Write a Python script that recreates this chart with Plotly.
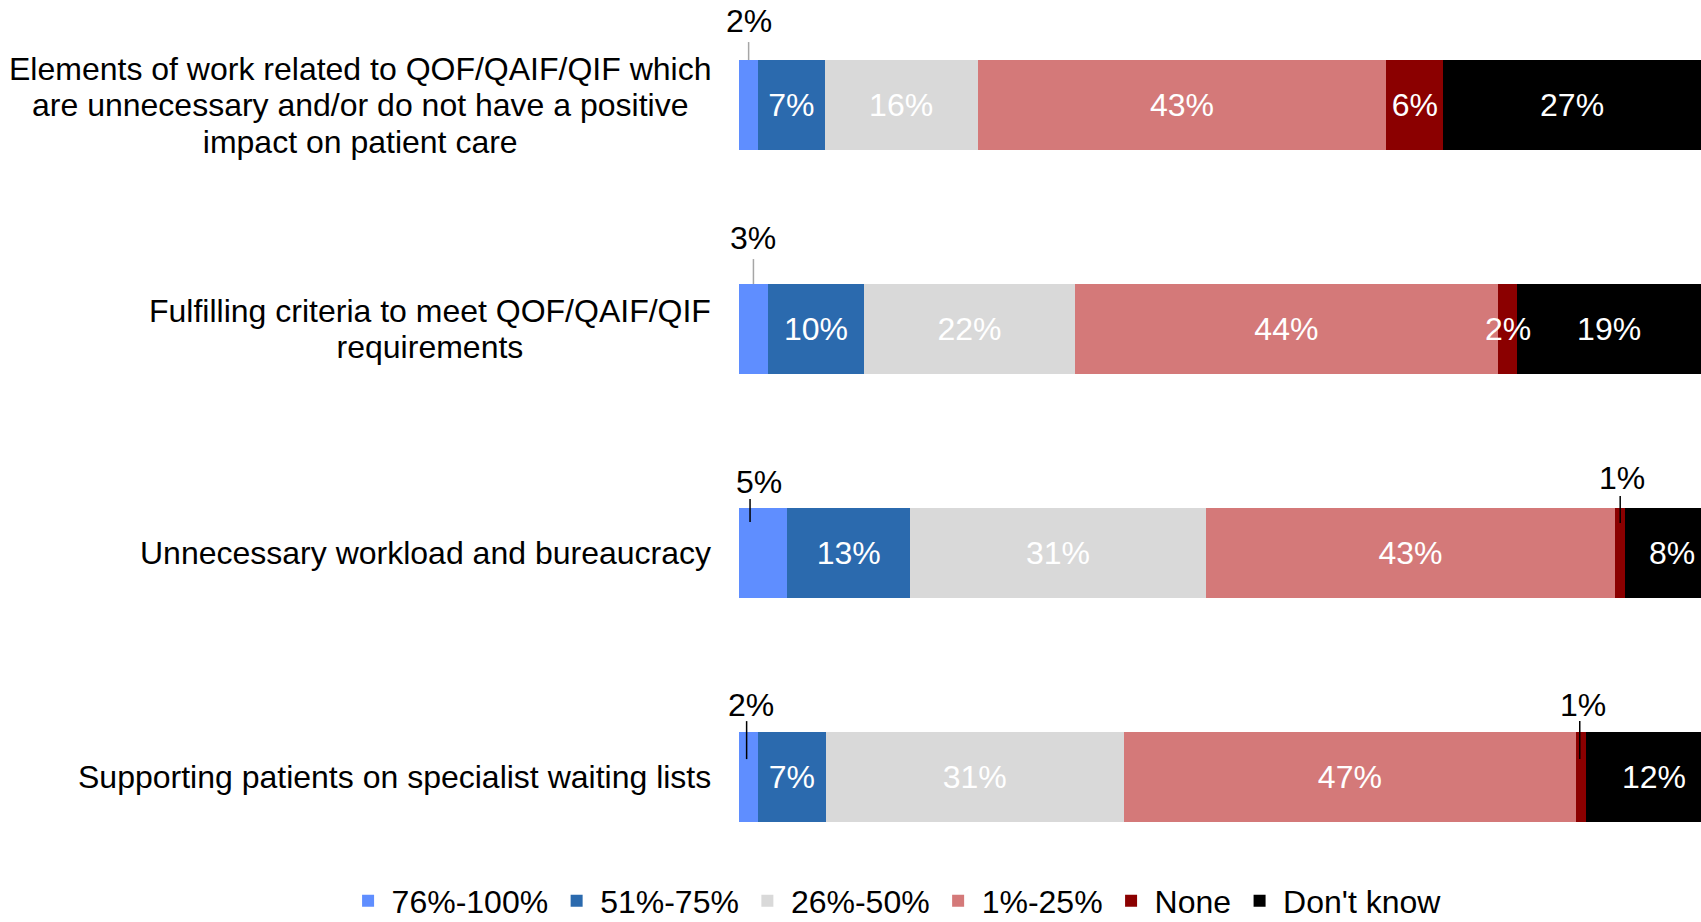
import plotly.graph_objects as go

# categories (top to bottom)
categories = [
    "Elements of work related to QOF/QAIF/QIF which<br>are unnecessary and/or do not have a positive<br>impact on patient care",
    "Fulfilling criteria to meet QOF/QAIF/QIF<br>requirements",
    "Unnecessary workload and bureaucracy",
    "Supporting patients on specialist waiting lists",
]

# share of respondents per answer (percent), one list per answer band
v_76_100 = [2.0, 3.0, 5.0, 2.0]
v_51_75 = [6.9, 10.0, 12.8, 7.0]
v_26_50 = [15.9, 21.9, 30.7, 31.0]
v_1_25 = [42.5, 44.0, 42.6, 47.0]
v_none = [5.9, 2.0, 1.0, 1.0]
v_dont_know = [26.8, 19.1, 7.9, 12.0]

# labels as printed on the chart
lab_76_100 = ["2%", "3%", "5%", "2%"]
lab_51_75 = ["7%", "10%", "13%", "7%"]
lab_26_50 = ["16%", "22%", "31%", "31%"]
lab_1_25 = ["43%", "44%", "43%", "47%"]
lab_none = ["6%", "2%", "1%", "1%"]
lab_dont_know = ["27%", "19%", "8%", "12%"]

series_names = ["76%-100%", "51%-75%", "26%-50%", "1%-25%", "None", "Don't know"]
series_values = [v_76_100, v_51_75, v_26_50, v_1_25, v_none, v_dont_know]
series_labels = [lab_76_100, lab_51_75, lab_26_50, lab_1_25, lab_none, lab_dont_know]
colors = ["#5F8EFF", "#2B6AAE", "#D9D9D9", "#D47979", "#8B0000", "#000000"]

# small segments labelled above the bar with a leader line (pixel offsets from the bar centre):
# (row, series, line colour, line x shift, line bottom, line top, text x shift, text y shift)
callouts = [
    (0, 0, "#A6A6A6", 0, 45, 63, 0, 84),
    (1, 0, "#A6A6A6", 0, 45, 70, 0, 91),
    (2, 0, "#000000", -13, 31, 54, -4, 71),
    (2, 4, "#000000", 0, 30, 57, 2, 75),
    (3, 0, "#000000", -2, 18, 56, 2, 72),
    (3, 4, "#000000", -1, 18, 56, 2, 72),
]
callout_set = {(c[0], c[1]) for c in callouts}

# in-bar labels drawn on top (spilling over a neighbour or nudged off-centre): (row, series, x shift)
overlay = [(1, 4, 0), (2, 5, 9), (3, 5, 11)]
overlay_set = {(o[0], o[1]) for o in overlay}

FONT = "Liberation Sans, Arial, sans-serif"
FS = 32

fig = go.Figure()
for s, (name, vals, labs, col) in enumerate(zip(series_names, series_values, series_labels, colors)):
    text = ["" if (r, s) in callout_set or (r, s) in overlay_set else labs[r]
            for r in range(len(categories))]
    fig.add_trace(go.Bar(
        y=categories,
        x=vals,
        name=name,
        orientation="h",
        marker=dict(color=col, line=dict(width=0)),
        text=text,
        textposition="inside",
        insidetextanchor="middle",
        constraintext="none",
        textangle=0,
        textfont=dict(color="white", size=FS, family=FONT),
        hoverinfo="skip",
    ))


def seg_mid(r, s):
    start = sum(series_values[k][r] for k in range(s))
    return start + series_values[s][r] / 2


# leader-line callouts
for r, s, lc, lx, lb, lt, tx, ty in callouts:
    mid = seg_mid(r, s)
    fig.add_shape(
        type="line", xref="x", yref="y",
        xsizemode="pixel", ysizemode="pixel",
        xanchor=mid, yanchor=r,
        x0=lx, x1=lx, y0=lb, y1=lt,
        line=dict(color=lc, width=1.5),
    )
    fig.add_annotation(
        x=mid, y=categories[r],
        text=series_labels[s][r],
        showarrow=False,
        xshift=tx, yshift=ty,
        font=dict(color="black", size=FS, family=FONT),
    )

for r, s, xs in overlay:
    fig.add_annotation(
        x=seg_mid(r, s), y=categories[r],
        text=series_labels[s][r],
        showarrow=False,
        xshift=xs,
        font=dict(color="white", size=FS, family=FONT),
    )

# category labels, centred multi-line blocks right-aligned to the bars
# (small base size keeps the line spacing tight, the span sets the glyph size)
span = f"<span style='font-size:{FS}px'>"
for c in categories:
    fig.add_annotation(
        x=0, xref="paper", y=c, yref="y",
        text=span + c.replace("<br>", "</span><br>" + span) + "</span>",
        showarrow=False,
        xanchor="right", align="center",
        xshift=-26,
        font=dict(color="black", size=28, family=FONT),
    )

fig.update_layout(
    barmode="stack",
    bargap=0.6,
    width=1701,
    height=922,
    margin=dict(l=739, r=0, t=0, b=62, autoexpand=False),
    paper_bgcolor="white",
    plot_bgcolor="white",
    font=dict(family=FONT, size=FS, color="black"),
    xaxis=dict(range=[0, 100], visible=False, fixedrange=True),
    yaxis=dict(range=[3.370, -0.469], showticklabels=False, showgrid=False,
               zeroline=False, showline=False, ticks="", fixedrange=True),
    legend=dict(
        orientation="h",
        x=-0.41, xanchor="left",
        y=-0.0477, yanchor="middle",
        font=dict(size=FS, family=FONT),
        itemwidth=37,
        traceorder="normal",
    ),
    showlegend=True,
)

fig.write_html(
    "out.html",
    config={"displayModeBar": False},
    post_script="document.body.style.margin='0';document.body.style.overflow='hidden';",
)
